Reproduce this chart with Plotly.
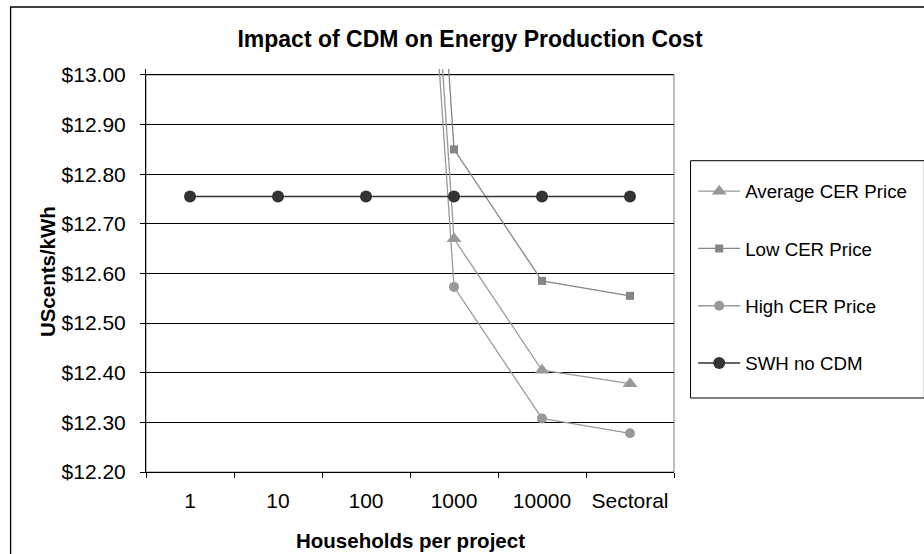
import plotly.graph_objects as go

# ---- data ----
categories = ["1", "10", "100", "1000", "10000", "Sectoral"]
avg_cer = [None, None, 15.30, 12.670, 12.405, 12.378]
low_cer = [None, None, 15.55, 12.850, 12.585, 12.555]
high_cer = [None, None, 15.20, 12.573, 12.308, 12.278]
swh_no_cdm = [12.755, 12.755, 12.755, 12.755, 12.755, 12.755]
y_ticks = [12.2, 12.3, 12.4, 12.5, 12.6, 12.7, 12.8, 12.9, 13.0]
y_tick_text = ["$%.2f" % v for v in y_ticks]

FONT = "Liberation Sans, Arial, sans-serif"

fig = go.Figure()
fig.add_trace(go.Scatter(
    x=categories, y=avg_cer, name="Average CER Price", mode="lines+markers",
    line=dict(color="#999999", width=1.3),
    marker=dict(symbol="triangle-up", size=13, color="#999999"),
    legendgroup="a"))
fig.add_trace(go.Scatter(
    x=categories, y=low_cer, name="Low CER Price", mode="lines+markers",
    line=dict(color="#858585", width=1.3),
    marker=dict(symbol="square", size=8, color="#858585"),
    legendgroup="b"))
fig.add_trace(go.Scatter(
    x=categories, y=high_cer, name="High CER Price", mode="lines+markers",
    line=dict(color="#999999", width=1.3),
    marker=dict(symbol="circle", size=10, color="#999999"),
    legendgroup="c"))
fig.add_trace(go.Scatter(
    x=categories, y=swh_no_cdm, name="SWH no CDM", mode="lines+markers",
    line=dict(color="#333333", width=1.5),
    marker=dict(symbol="circle", size=12, color="#333333"),
    legendgroup="d"))

L, R, T, B = 146, 236, 69, 82
W, H = 924, 554
pw, ph = W - L - R, H - T - B

def px_x(x):
    return (x - L) / pw

def px_y(y):
    return (H - B - y) / ph

shapes = [
    # plot-area border (grey top & right)
    dict(type="rect", xref="paper", yref="y", x0=0, x1=1, y0=12.2, y1=13.0,
         line=dict(color="#808080", width=1), layer="between"),
    # legend box
    dict(type="rect", xref="paper", yref="paper", x0=px_x(705), x1=px_x(945),
         y0=px_y(398), y1=px_y(160.7), line=dict(color="#000000", width=1)),
    # outer chart border
    dict(type="rect", xref="paper", yref="paper", x0=px_x(7), x1=px_x(1000),
         y0=px_y(700), y1=px_y(7), line=dict(color="#000000", width=1.3)),
]

fig.update_layout(
    width=W, height=H,
    margin=dict(l=L, r=R, t=T, b=B, pad=0),
    paper_bgcolor="white", plot_bgcolor="white",
    font=dict(family=FONT, size=21, color="#000000"),
    title=dict(text="<b>Impact of CDM on Energy Production Cost</b>",
               font=dict(family=FONT, size=23, color="#000000"),
               x=470 / W, xref="container", xanchor="center",
               y=1 - 38.5 / H, yref="container", yanchor="middle"),
    showlegend=True,
    legend=dict(x=px_x(707.7), y=px_y(172.5), xref="paper", yref="paper",
                xanchor="left", yanchor="top",
                bgcolor="rgba(0,0,0,0)", borderwidth=0,
                font=dict(family=FONT, size=18.7, color="#000000"),
                traceorder="grouped", tracegroupgap=30, itemwidth=42),
    shapes=shapes,
    annotations=[
        dict(text="<b>UScents/kWh</b>", xref="paper", yref="paper",
             x=px_x(44.5), y=px_y(272), textangle=-90, showarrow=False,
             xanchor="center", yanchor="middle",
             font=dict(family=FONT, size=20.5, color="#000000")),
        dict(text="<b>Households per project</b>", xref="paper", yref="paper",
             x=0.5, y=px_y(540), showarrow=False,
             xanchor="center", yanchor="middle",
             font=dict(family=FONT, size=20.5, color="#000000")),
    ],
)

fig.update_yaxes(range=[12.2, 13.012], tickmode="array", tickvals=y_ticks,
                 ticktext=y_tick_text,
                 showgrid=True, gridcolor="#000000", gridwidth=1,
                 ticks="outside", ticklen=5, tickcolor="#000000", tickwidth=1,
                 showline=True, linecolor="#000000", linewidth=1,
                 zeroline=False, ticklabelstandoff=10,
                 tickfont=dict(family=FONT, size=21, color="#000000"))
fig.update_xaxes(type="category", categoryorder="array", categoryarray=categories,
                 range=[-0.5, 5.5], tickson="boundaries", showgrid=False,
                 ticks="outside", ticklen=5, tickcolor="#000000", tickwidth=1,
                 showline=True, linecolor="#000000", linewidth=1,
                 zeroline=False, ticklabelstandoff=10,
                 tickfont=dict(family=FONT, size=21, color="#000000"))

fig.write_html("out.html")
